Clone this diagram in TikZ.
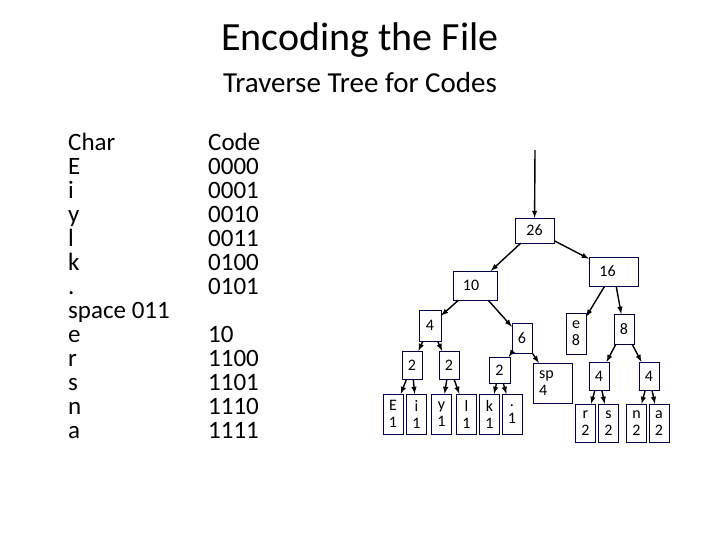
\documentclass[tikz,border=0pt]{standalone}
\usepackage{fontspec}
\setmainfont{Carlito}
\usepackage{tikz}
\begin{document}
\begin{tikzpicture}[x=1pt,y=-1pt,
  box/.style={draw=blue!30!black, fill=white, inner sep=0pt, font=\fontsize{16}{17}\selectfont, align=center},
  link/.style={-latex, line width=1.4pt},
  col/.style={anchor=north west, align=left, inner sep=0pt, font=\fontsize{25}{24}\selectfont}]
\useasboundingbox (0,0) rectangle (720,540);
% titles
\node (title) at (360,40) {\fontsize{40}{42}\selectfont Encoding the File};
\node (sub) at (360,83) {\fontsize{29}{30}\selectfont Traverse Tree for Codes};
% columns
\node[col] (chars) at (68,133) {Char\\E\\i\\y\\l\\k\\.\\space 011\\e\\r\\s\\n\\a};
\node[col] (codes) at (208,133) {Code\\0000\\0001\\0010\\0011\\0100\\0101\\[24pt]10\\1100\\1101\\1110\\1111};
% tree nodes
\coordinate (top) at (535,150);
\node[box, minimum width=39, minimum height=25] (n26) at (534.5,230.5) {26};
\node[box, minimum width=49, minimum height=29] (n16) at (613.5,271.5) {\hspace*{-12pt}16};
\node[box, minimum width=44, minimum height=29] (n10) at (475,285.5) {\hspace*{-8pt}10};
\node[box, minimum width=22, minimum height=31] (n4a) at (430,325.5) {4};
\node[box, minimum width=20, minimum height=30] (n6) at (522,338) {6};
\node[box, minimum width=20, minimum height=41] (ne) at (576,333.5) {e\\8};
\node[box, minimum width=20, minimum height=30] (n8) at (624,329) {8};
\node[box, minimum width=20, minimum height=28] (n2a) at (412,365) {2};
\node[box, minimum width=20, minimum height=28] (n2b) at (449,365) {2};
\node[box, minimum width=21, minimum height=26] (n2c) at (499.5,370) {2};
\node[box, minimum width=39, minimum height=40, align=left] (nsp) at (552.5,383) {sp\hspace*{12pt}\\4};
\node[box, minimum width=20, minimum height=28] (n4b) at (599,376) {4};
\node[box, minimum width=20, minimum height=28] (n4c) at (649,376) {4};
\foreach \nm/\lab/\x in {nE/E/393, ni/i/416.5, ny/y/441.5, nl/l/466.5, nk/k/489.5, ndot/./512}
  \node[box, minimum width=20, minimum height=40] (\nm) at (\x,414) {\lab\\1};
\foreach \nm/\lab/\x in {nr/r/585.5, ns/s/608.5, nn/n/636.5, na/a/659}
  \node[box, minimum width=20, minimum height=38] (\nm) at (\x,423) {\lab\\2};
% links
\draw[link] (top) -- (n26);
\draw[link] (n26) -- (n10);
\draw[link] (n26) -- (n16);
\draw[link] (n10) -- (n4a);
\draw[link] (n10) -- (n6);
\draw[link] (n16) -- (ne);
\draw[link] (n16) -- (n8);
\draw[link] (n4a) -- (n2a);
\draw[link] (n4a) -- (n2b);
\draw[link] (n6) -- (n2c);
\draw[link] (n6) -- (nsp);
\draw[link] (n8) -- (n4b);
\draw[link] (n8) -- (n4c);
\draw[link] (n2a) -- (nE);
\draw[link] (n2a) -- (ni);
\draw[link] (n2b) -- (ny);
\draw[link] (n2b) -- (nl);
\draw[link] (n2c) -- (nk);
\draw[link] (n2c) -- (ndot);
\draw[link] (n4b) -- (nr);
\draw[link] (n4b) -- (ns);
\draw[link] (n4c) -- (nn);
\draw[link] (n4c) -- (na);
\end{tikzpicture}
\end{document}
